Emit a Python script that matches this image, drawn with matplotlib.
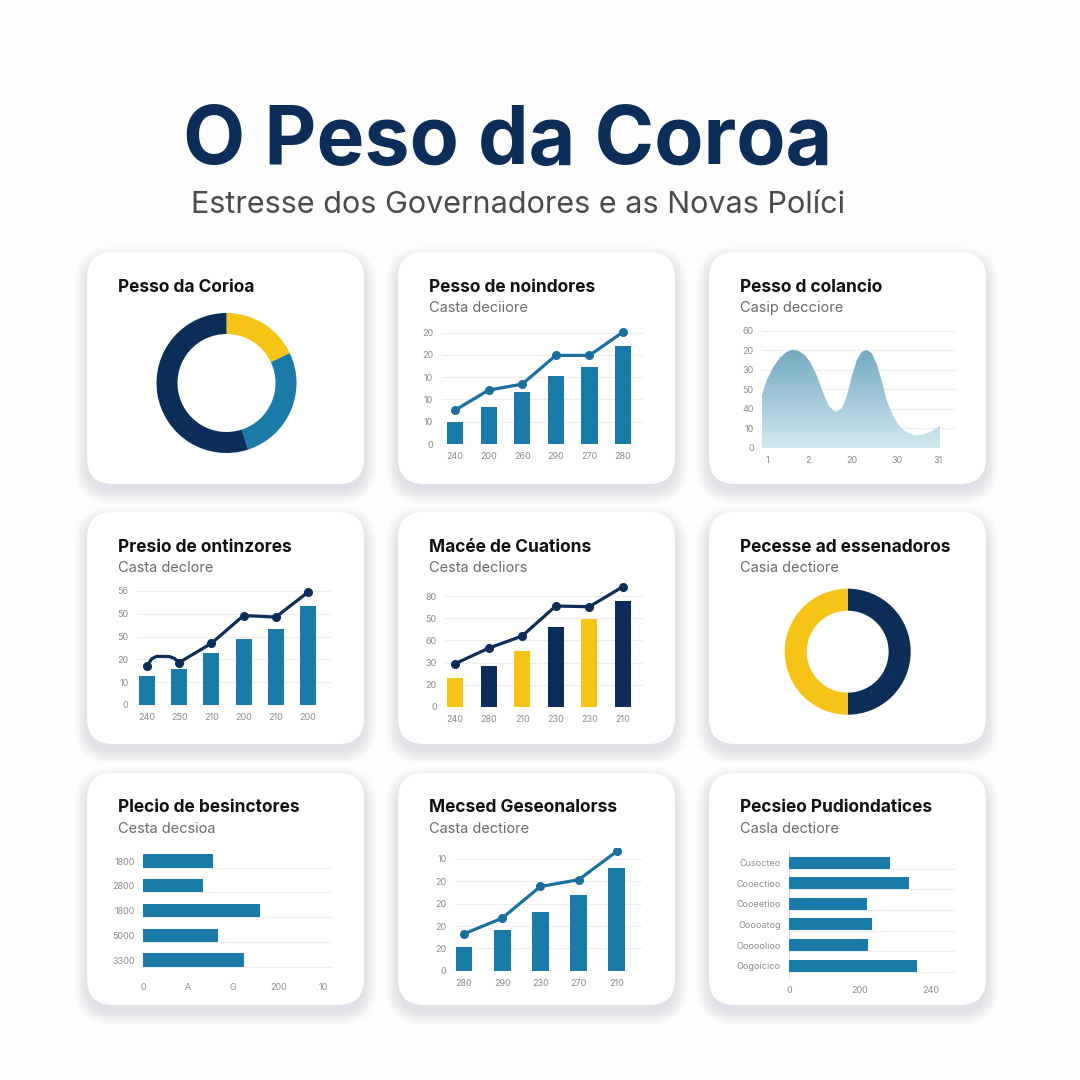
import numpy as np
import matplotlib.pyplot as plt
from matplotlib.patches import FancyBboxPatch
from matplotlib.colors import LinearSegmentedColormap

plt.rcParams['font.family'] = ['Inter', 'DejaVu Sans']

NAVY = '#0c2d57'
TEAL = '#1a7aa8'
YELLOW = '#f6c416'
GRID = '#ededed'
TICK = '#8c8c8c'

W = H = 1080

# ---- data ----
title = "O Peso da Coroa"
subtitle = "Estresse dos Governadores e as Novas Políci"

card_titles = ["Pesso da Corioa", "Pesso de noindores", "Pesso d colancio",
               "Presio de ontinzores", "Macée de Cuations", "Pecesse ad essenadoros",
               "Plecio de besinctores", "Mecsed Geseonalorss", "Pecsieo Pudiondatices"]
card_subs = ["", "Casta deciiore", "Casip decciore",
             "Casta declore", "Cesta decliors", "Casia dectiore",
             "Cesta decsioa", "Casta dectiore", "Casla dectiore"]

# card 1: donut (clockwise from top)
donut1_values = [18, 27, 55]
donut1_colors = [YELLOW, TEAL, NAVY]

# card 2: bars + line
c2_bars = [10, 16.4, 23.3, 30.6, 34.6, 44]
c2_line = [15.2, 24.2, 26.9, 39.8, 39.8, 50.3]
c2_xlabels = ["240", "200", "260", "290", "270", "280"]
c2_ylabels = ["0", "10", "10", "10", "20", "20"]

# card 3: area
c3_x = [0.0, 0.26, 0.64, 1.01, 1.39, 1.67, 2.04, 2.42, 2.70, 3.07, 3.45,
        3.73, 4.01, 4.19, 4.48, 4.76, 5.04, 5.32, 5.60, 5.88, 6.16, 6.44,
        6.72, 7.00, 7.38, 7.75, 8.13, 8.60, 9.06, 9.53, 10.0]
c3_y = [27.1, 34.7, 41.5, 46.3, 49.2, 50.3, 49.8, 47.5, 44.1, 37.3, 28.0,
        22.0, 19.2, 18.6, 20.3, 26.3, 36.4, 44.9, 49.2, 50.3, 48.6, 43.2,
        34.7, 24.6, 16.1, 11.0, 8.0, 6.4, 6.8, 8.5, 11.5]
c3_xlabels = ["1", "2", "20", "30", "31"]
c3_ylabels = ["0", "10", "40", "50", "30", "20", "60"]

# card 4: bars + line (line has a small bump between first two points)
c4_bars = [12.7, 15.8, 22.7, 28.9, 33.5, 43.4]
c4_line_x = [0, 0.15, 0.3, 0.7, 0.85, 1, 2, 3, 4, 5]
c4_line_y = [17.1, 20.3, 21.3, 21.2, 20.4, 18.6, 27.0, 39.2, 38.5, 49.4]
c4_xlabels = ["240", "250", "210", "200", "210", "200"]
c4_ylabels = ["0", "10", "20", "50", "50", "56"]

# card 5: bars + line, alternating colours
c5_bars = [13.0, 18.3, 25.3, 35.9, 39.8, 47.6]
c5_line = [19.5, 26.5, 32.0, 45.5, 45.2, 54.2]
c5_colors = [YELLOW, NAVY, YELLOW, NAVY, YELLOW, NAVY]
c5_xlabels = ["240", "280", "210", "230", "230", "210"]
c5_ylabels = ["0", "20", "30", "60", "50", "80"]

# card 6: donut (clockwise from top)
donut2_values = [50, 50]
donut2_colors = [NAVY, YELLOW]

# card 7: horizontal bars
c7_values = [15.5, 13.2, 25.9, 16.5, 22.4]
c7_labels = ["1800", "2800", "1800", "5000", "3300"]
c7_xlabels = ["0", "A", "G", "200", "10"]

# card 8: bars + line
c8_bars = [10.5, 18.0, 26.2, 34.0, 46.0]
c8_line = [16.5, 23.5, 37.7, 40.7, 53.4]
c8_xlabels = ["280", "290", "230", "270", "210"]
c8_ylabels = ["0", "20", "20", "20", "20", "10"]

# card 9: horizontal bars
c9_values = [286, 340, 222, 234, 225, 361]
c9_labels = ["Cusocteo", "Cooectioo", "Cooeetioo", "Ooooatog", "Ooooolioo", "Oogoicico"]
c9_xlabels = ["0", "200", "240"]


def rect(x0, y0, x1, y1):
    return [x0 / W, 1 - y1 / H, (x1 - x0) / W, (y1 - y0) / H]


fig = plt.figure(figsize=(10.8, 10.8), dpi=100, facecolor='#fdfdfd')
bg = fig.add_axes([0, 0, 1, 1])
bg.set_xlim(0, W)
bg.set_ylim(H, 0)
bg.axis('off')

bg.text(508, 143, title, ha='center', va='center', fontsize=58,
        fontweight='bold', color=NAVY)
bg.text(518, 205, subtitle, ha='center', va='center', fontsize=22,
        color='#4a4a4a')

cards = [(87, 252), (398, 252), (709, 252),
         (87, 512), (398, 512), (709, 512),
         (87, 773), (398, 773), (709, 773)]
cw, ch = 277, 232
for i, (cx, cy) in enumerate(cards):
    # soft drop shadow
    for k in range(14):
        s = FancyBboxPatch((cx - k, cy + 7 - k), cw + 2 * k, ch + 2 * k,
                           boxstyle="round,pad=0,rounding_size=%d" % (26 + k),
                           fc='#6f7f99', ec='none', alpha=0.011, zorder=1)
        bg.add_patch(s)
    bg.add_patch(FancyBboxPatch((cx, cy), cw, ch,
                                boxstyle="round,pad=0,rounding_size=26",
                                fc='white', ec='none', zorder=2))
    bg.text(cx + 31, cy + 35, card_titles[i], fontsize=12.5, fontweight='bold',
            color='#111111', va='center', zorder=3)
    if card_subs[i]:
        bg.text(cx + 31, cy + 56, card_subs[i], fontsize=10.5, color='#6a6a6a',
                va='center', zorder=3)


def chart_ax(box):
    ax = fig.add_axes(rect(*box))
    ax.patch.set_alpha(0)
    for sp in ax.spines.values():
        sp.set_visible(False)
    ax.tick_params(length=0, labelsize=6.5, labelcolor=TICK, pad=6)
    return ax


def bar_line(box, bars, line_x, line_y, colors, line_color, xlabels, ylabels,
             xlim, ylim, width, marks):
    ax = chart_ax(box)
    x = np.arange(len(bars))
    ax.bar(x, bars, width=width, color=colors, zorder=2)
    ax.plot(line_x, line_y, color=line_color, lw=2.3, marker='o', ms=5.5,
            markevery=marks, zorder=3, solid_capstyle='round',
            solid_joinstyle='round')
    ax.set_yticks(np.arange(0, 10 * len(ylabels), 10))
    ax.set_yticklabels(ylabels)
    ax.set_xticks(x)
    ax.set_xticklabels(xlabels)
    ax.yaxis.grid(True, color=GRID, lw=0.8)
    ax.set_axisbelow(True)
    ax.set_xlim(*xlim)
    ax.set_ylim(*ylim)
    return ax


# card 1 donut
ax = fig.add_axes(rect(156.5, 313, 296.5, 453))
ax.pie(donut1_values, colors=donut1_colors, startangle=90, counterclock=False,
       wedgeprops=dict(width=0.3, edgecolor='none'))
ax.set_xlim(-1, 1)
ax.set_ylim(-1, 1)

# card 2
bar_line((441.6, 326, 643.2, 444), c2_bars, np.arange(6), c2_line, TEAL,
         '#1b6f9c', c2_xlabels, c2_ylabels, (-0.4, 5.6), (0, 53), 0.48,
         None)

# card 3 area with gradient
ax = chart_ax((762, 325, 956, 448))
ax.set_xlim(0, 10.9)
ax.set_ylim(0, 63)
ax.set_yticks(np.arange(0, 70, 10))
ax.set_yticklabels(c3_ylabels)
ax.set_xticks([0.3, 2.6, 5.05, 7.6, 9.9])
ax.set_xticklabels(c3_xlabels)
ax.yaxis.grid(True, color=GRID, lw=0.8)
ax.set_axisbelow(True)
poly = ax.fill_between(c3_x, 0, c3_y, color='none', lw=0)
cmap = LinearSegmentedColormap.from_list('area', ['#d2e8ef', '#6fa7bf'])
grad = np.linspace(0, 1, 256).reshape(-1, 1)
im = ax.imshow(grad, extent=(0, 10, 0, 52), origin='lower', aspect='auto',
               cmap=cmap, zorder=2)
im.set_clip_path(poly.get_paths()[0], ax.transData)

# card 4
bar_line((136.7, 584, 330.5, 705), c4_bars, c4_line_x, c4_line_y, TEAL,
         NAVY, c4_xlabels, c4_ylabels, (-0.32, 5.7), (0, 53), 0.5,
         [0, 5, 6, 7, 8, 9])

# card 5
bar_line((445, 580.5, 643, 707), c5_bars, np.arange(6), c5_line, c5_colors,
         NAVY, c5_xlabels, c5_ylabels, (-0.3, 5.6), (0, 57), 0.48, None)

# card 6 donut
ax = fig.add_axes(rect(784.7, 588.7, 910.7, 714.7))
ax.pie(donut2_values, colors=donut2_colors, startangle=90, counterclock=False,
       wedgeprops=dict(width=0.35, edgecolor='none'))
ax.set_xlim(-1, 1)
ax.set_ylim(-1, 1)

# card 7 horizontal bars
ax = chart_ax((143.3, 846.2, 332.3, 974.9))
y = np.arange(len(c7_values))
ax.barh(y, c7_values, height=0.53, color=TEAL, zorder=2)
for yy in y:
    ax.axhline(yy + 0.27, color=GRID, lw=0.8, zorder=1)
ax.set_yticks(y)
ax.set_yticklabels(c7_labels)
ax.set_xticks([0, 10, 20, 30, 40])
ax.set_xticklabels(c7_xlabels)
ax.set_xlim(0, 42)
ax.set_ylim(4.6, -0.6)

# card 8
bar_line((454.8, 847.8, 641.6, 970.7), c8_bars, np.arange(5), c8_line, TEAL,
         '#1b6f9c', c8_xlabels, c8_ylabels, (-0.24, 4.65), (0, 55), 0.44,
         None)

# card 9 horizontal bars
ax = chart_ax((789, 850.3, 955, 978))
y = np.arange(len(c9_values))
ax.barh(y, c9_values, height=0.58, color=TEAL, zorder=2)
for yy in y:
    ax.axhline(yy + 0.3, color=GRID, lw=0.8, zorder=1)
ax.axvline(0, color='#dddddd', lw=0.8, zorder=1)
ax.set_yticks(y)
ax.set_yticklabels(c9_labels)
ax.set_xticks([0, 200, 400])
ax.set_xticklabels(c9_xlabels)
ax.set_xlim(0, 470)
ax.set_ylim(5.6, -0.6)

fig.savefig('out.png', dpi=100, facecolor=fig.get_facecolor())
